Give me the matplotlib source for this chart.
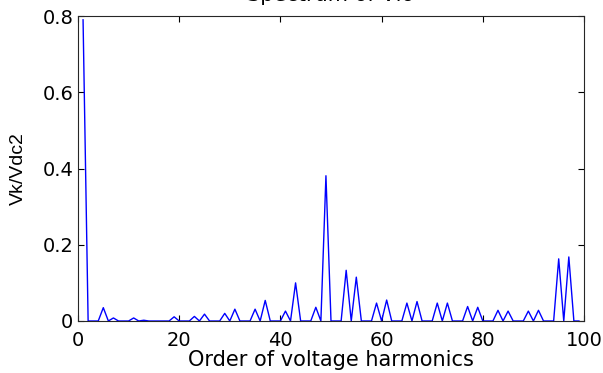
import matplotlib
matplotlib.use('Agg')
import matplotlib.pyplot as plt

plt.rcParams['font.family'] = ['DejaVu Sans']

# harmonic order and amplitude (non-listed orders are zero)
peak_order = [1, 5, 7, 11, 13, 19, 23, 25, 29, 31, 35, 37, 41, 43, 47, 49,
              53, 55, 59, 61, 65, 67, 71, 73, 77, 79, 83, 85, 89, 91, 95, 97]
peak_amp = [0.79, 0.035, 0.008, 0.008, 0.002, 0.011, 0.012, 0.018, 0.02, 0.031,
            0.031, 0.054, 0.026, 0.1, 0.036, 0.381,
            0.133, 0.115, 0.047, 0.055, 0.047, 0.051, 0.047, 0.047, 0.038, 0.036,
            0.028, 0.026, 0.026, 0.028, 0.163, 0.168]

orders = list(range(1, 100))
amps = []
for k in orders:
    if k in peak_order:
        amps.append(peak_amp[peak_order.index(k)])
    else:
        amps.append(0.0)

fig = plt.figure(figsize=(6.03, 3.73), dpi=100)
ax = fig.add_axes([78 / 603, 52 / 373, 506 / 603, 305 / 373])

ax.plot(orders, amps, color='#0000ff', linewidth=1.0)

ax.set_xlim(0, 100)
ax.set_ylim(0, 0.8)
ax.set_xticks([0, 20, 40, 60, 80, 100])
ax.set_yticks([0, 0.2, 0.4, 0.6, 0.8])
ax.set_yticklabels(['0', '0.2', '0.4', '0.6', '0.8'])
ax.tick_params(direction='in', top=True, right=True, labelsize=14, length=4)
ax.tick_params(axis='x', pad=7.5)
ax.tick_params(axis='y', pad=3.5)
for s in ax.spines.values():
    s.set_linewidth(0.8)
    s.set_color('#262626')

ax.set_xlabel('Order of voltage harmonics', fontsize=15, labelpad=0)
ax.set_ylabel('Vk/Vdc2', fontsize=14, labelpad=11, family='Liberation Sans')
# title sits mostly above the figure edge, as in the original
ax.set_title('Spectrum of Vlo', fontsize=15, pad=10.5)

fig.savefig('out.png', dpi=100)
